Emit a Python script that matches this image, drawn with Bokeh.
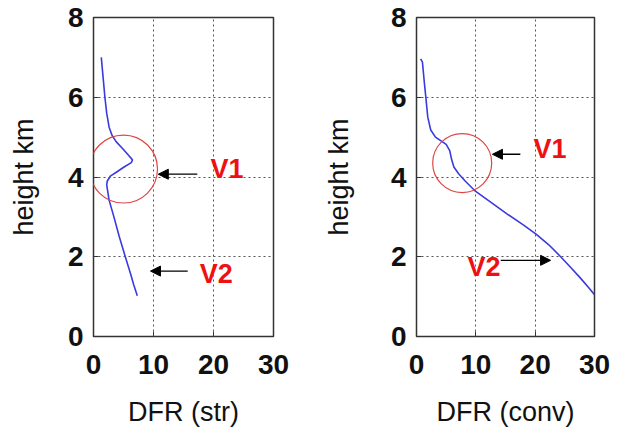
from bokeh.plotting import figure
from bokeh.layouts import row
from bokeh.models import Range1d, FixedTicker, Arrow, NormalHead
from bokeh.embed import file_html
from bokeh.resources import INLINE

# DFR profiles (stratiform and convective) against height in km
str_dfr = [1.3, 1.6, 1.9, 2.2, 2.6, 3.1, 3.8, 4.8, 5.8, 6.5, 6.3, 5.1, 3.8, 2.8, 2.3,
           2.2, 2.6, 3.4, 4.3, 5.3, 6.2, 6.7, 7.3]
str_height = [7.0, 6.5, 6.0, 5.6, 5.25, 5.04, 4.88, 4.72, 4.55, 4.43, 4.36, 4.25, 4.12,
              4.02, 3.9, 3.8, 3.42, 3.0, 2.5, 2.0, 1.56, 1.3, 1.02]

conv_dfr = [0.7, 1.0, 1.3, 1.6, 1.9, 2.4, 3.2, 4.2, 5.0, 5.6, 5.9, 6.3, 7.1, 8.2, 9.8,
            12.5, 15.3, 18.0, 20.2, 22.3, 24.3, 26.0, 27.6, 29.0, 30.0]
conv_height = [6.96, 6.88, 6.4, 5.96, 5.5, 5.18, 5.0, 4.9, 4.82, 4.66, 4.45, 4.25, 4.08,
               3.9, 3.66, 3.37, 3.07, 2.8, 2.56, 2.3, 2.0, 1.73, 1.47, 1.23, 1.05]

x_ticks = [0, 10, 20, 30]
y_ticks = [0, 2, 4, 6, 8]
x_labels = ["DFR (str)", "DFR (conv)"]
y_label = "height km"

FONT = "Liberation Sans"
LINE_BLUE = "#3a3ade"
CIRCLE_RED = "#e04545"
TEXT_RED = "#ee1111"


def panel(dfr, height, xlabel, width, borders, ylabel_standoff):
    left, right = borders
    p = figure(width=width, height=430, output_backend="svg", toolbar_location=None,
               x_range=Range1d(0, 30), y_range=Range1d(0, 8),
               min_border_left=left, min_border_right=right,
               min_border_top=17, min_border_bottom=94)
    p.outline_line_color = "#333333"
    p.outline_line_width = 1.5
    p.background_fill_color = "white"
    p.border_fill_color = "white"

    p.xaxis.ticker = FixedTicker(ticks=x_ticks)
    p.yaxis.ticker = FixedTicker(ticks=y_ticks)
    for ax in (p.xaxis[0], p.yaxis[0]):
        ax.axis_line_color = None
        ax.major_tick_in = 5
        ax.major_tick_out = 0
        ax.major_tick_line_color = "#333333"
        ax.minor_tick_line_color = None
        ax.major_label_text_font = FONT
        ax.major_label_text_font_style = "bold"
        ax.major_label_text_font_size = "28px"
        ax.major_label_text_color = "#111111"
        ax.axis_label_text_font = FONT
        ax.axis_label_text_font_style = "normal"
        ax.axis_label_text_font_size = "27px"
        ax.axis_label_text_color = "#111111"
    p.xaxis.axis_label = xlabel
    p.yaxis.axis_label = y_label
    p.xaxis.major_label_standoff = 18
    p.yaxis.major_label_standoff = 10
    p.xaxis.axis_label_standoff = 20
    p.yaxis.axis_label_standoff = ylabel_standoff

    for g in (p.xgrid[0], p.ygrid[0]):
        g.grid_line_color = "#555555"
        g.grid_line_dash = "2 3"
        g.grid_line_width = 1

    p.line(dfr, height, line_color=LINE_BLUE, line_width=1.6)
    return p


left = panel(str_dfr, str_height, x_labels[0], 312, (93, 39), 26)
right = panel(conv_dfr, conv_height, x_labels[1], 312, (104, 30), 34)

# highlighted regions
left.scatter([5.0], [4.2], size=68, marker="circle", fill_alpha=0,
             line_color=CIRCLE_RED, line_width=1.2)
right.scatter([7.7], [4.35], size=59, marker="circle", fill_alpha=0,
              line_color=CIRCLE_RED, line_width=1.2)


def label_arrow(p, txt, tx, ty, x0, x1, ya):
    p.text([tx], [ty], text=[txt], text_color=TEXT_RED, text_font_size="27px",
           text_font_style="bold", text_align="left", text_baseline="middle",
           text_font={"value": FONT})
    p.add_layout(Arrow(end=NormalHead(size=10, fill_color="black", line_color="black"),
                       x_start=x0, y_start=ya, x_end=x1, y_end=ya,
                       line_color="black", line_width=1.3))


label_arrow(left, "V1", 19.5, 4.2, 17.3, 10.8, 4.07)
label_arrow(left, "V2", 17.7, 1.57, 15.7, 9.5, 1.64)
label_arrow(right, "V1", 19.7, 4.69, 17.5, 12.8, 4.57)
label_arrow(right, "V2", 8.6, 1.74, 14.2, 22.6, 1.91)

layout = row(left, right)
open("out.html", "w").write(file_html(layout, INLINE))
